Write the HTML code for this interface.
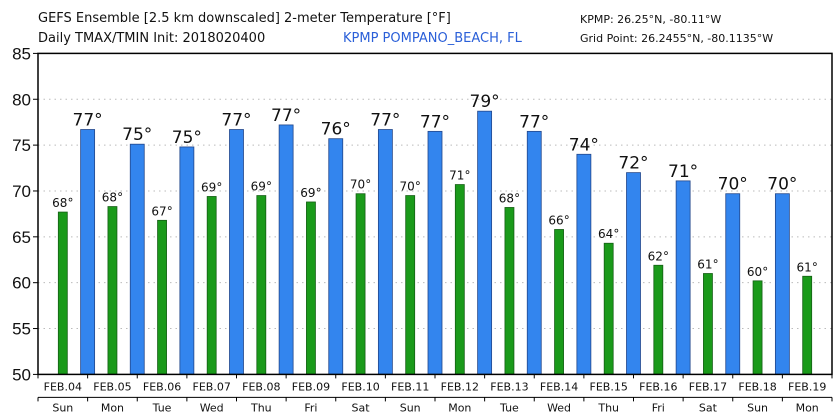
<!DOCTYPE html>
<html><head><meta charset="utf-8"><style>
html,body{margin:0;padding:0;background:#fff;width:840px;height:420px;overflow:hidden}
svg{display:block;font-family:"DejaVu Sans","Liberation Sans",sans-serif}
</style></head><body>
<svg id="s" width="840" height="420" xmlns="http://www.w3.org/2000/svg">
<text x="38" y="22" font-size="13" fill="#111">GEFS Ensemble [2.5 km downscaled] 2-meter Temperature [°F]</text>
<text x="38" y="42" font-size="13" fill="#111">Daily TMAX/TMIN Init: 2018020400</text>
<text x="343" y="42" font-size="13" fill="#2a5fd8">KPMP POMPANO_BEACH, FL</text>
<text x="580" y="23" font-size="11" fill="#111">KPMP: 26.25°N, -80.11°W</text>
<text x="580" y="42" font-size="11" fill="#111">Grid Point: 26.2455°N, -80.1135°W</text>
<g id="g"></g>
</svg>
<script>
var g=document.getElementById('g'),h='';
var L=38,R=832,T=53.4,B=374.4,k=(B-T)/35,W=(R-L)/16;
function y(v){return B-(v-50)*k}
for(var v=55;v<=80;v+=5)h+='<line x1="'+L+'" x2="'+R+'" y1="'+y(v)+'" y2="'+y(v)+'" stroke="#bbb" stroke-dasharray="1.5,4"/>';
for(var v=50;v<=85;v+=5){h+='<line x1="'+(L-5)+'" x2="'+L+'" y1="'+y(v)+'" y2="'+y(v)+'" stroke="#000"/>';
h+='<text x="'+(L-7)+'" y="'+(y(v)+6)+'" font-size="17" text-anchor="end" fill="#111" font-family="Liberation Sans,sans-serif">'+v+'</text>';}
var bl=[76.7,75.1,74.8,76.7,77.2,75.7,76.7,76.5,78.7,76.5,74.0,72.0,71.1,69.7,69.7];
var bt=[77,75,75,77,77,76,77,77,79,77,74,72,71,70,70];
var gr=[67.7,68.3,66.8,69.4,69.5,68.8,69.7,69.5,70.7,68.2,65.8,64.3,61.9,61.0,60.2,60.7];
var gt=[68,68,67,69,69,69,70,70,71,68,66,64,62,61,60,61];
var dn=['Sun','Mon','Tue','Wed','Thu','Fri','Sat'];
for(var i=0;i<16;i++){var c=L+W*(i+0.5);
h+='<rect x="'+(c-4.5)+'" y="'+y(gr[i])+'" width="9" height="'+(B-y(gr[i]))+'" fill="#1a9a1a" stroke="#155f15" stroke-width="0.8"/>';
h+='<text x="'+c+'" y="'+(y(gr[i])-5)+'" font-size="12" text-anchor="middle" fill="#111">'+gt[i]+'°</text>';
var d=4+i;h+='<text x="'+c+'" y="'+(B+16)+'" font-size="11" text-anchor="middle" fill="#111">FEB.'+(d<10?'0'+d:d)+'</text>';
h+='<text x="'+c+'" y="'+(B+37)+'" font-size="11" text-anchor="middle" fill="#111">'+dn[i%7]+'</text>';}
for(var i=0;i<15;i++){var c=L+W*(i+1);
h+='<rect x="'+(c-7)+'" y="'+y(bl[i])+'" width="14" height="'+(B-y(bl[i]))+'" fill="#3385ee" stroke="#22468a" stroke-width="0.8"/>';
h+='<text x="'+c+'" y="'+(y(bl[i])-4)+'" font-size="17" text-anchor="middle" fill="#111">'+bt[i]+'°</text>';}
for(var i=0;i<=16;i++){var x=L+W*i;h+='<line x1="'+x+'" x2="'+x+'" y1="'+B+'" y2="'+(B+4)+'" stroke="#000"/>';
h+='<line x1="'+x+'" x2="'+x+'" y1="'+(B+23)+'" y2="'+(B+27)+'" stroke="#000"/>';}
h+='<line x1="'+L+'" x2="'+R+'" y1="'+(B+23)+'" y2="'+(B+23)+'" stroke="#000"/>';
h+='<rect x="'+L+'" y="'+T+'" width="'+(R-L)+'" height="'+(B-T)+'" fill="none" stroke="#000" stroke-width="1.5"/>';
g.innerHTML=h;
</script>
</body></html>
